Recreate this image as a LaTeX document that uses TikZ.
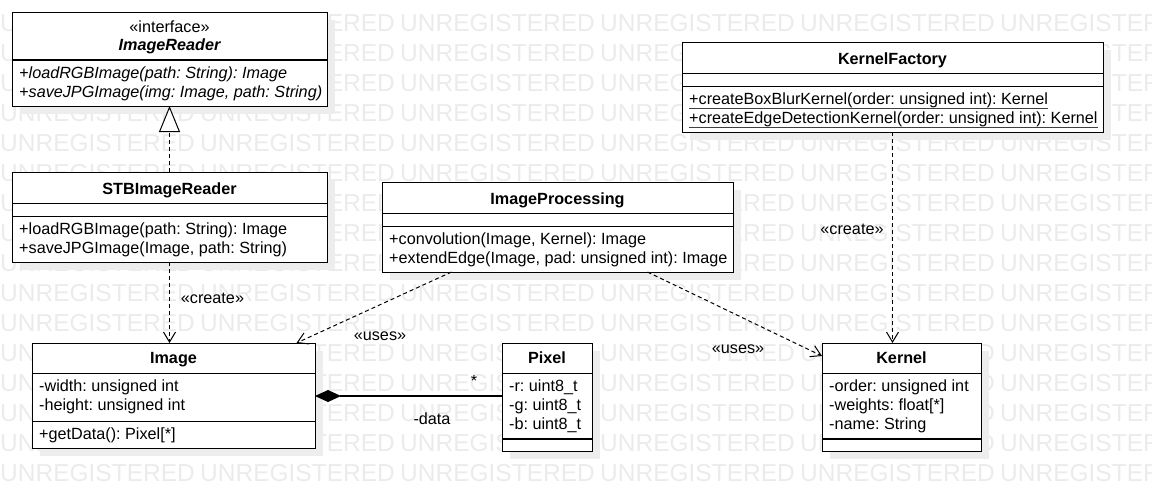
\documentclass[tikz,border=0pt]{standalone}
\usepackage{fontspec}
\setmainfont{Liberation Sans}
\usetikzlibrary{arrows.meta,shadows}
\frenchspacing

\begin{document}
\begin{tikzpicture}[x=1pt,y=-1pt,
		cls/.style={draw, fill=white, line width=1pt, inner sep=0pt, outer sep=0pt, anchor=north west,
			general shadow={fill=black!7, shadow xshift=8pt, shadow yshift=-8pt}},
		txt/.style={inner sep=0pt, anchor=base west, font=\fontsize{16.2}{19}\selectfont},
		title/.style={txt, anchor=base},
		dep/.style={line width=1pt, dash pattern=on 4pt off 3pt, -{Straight Barb[length=10pt,width=12pt]}},
		watermark/.style={inner sep=0pt, anchor=base west, text=black!8, font=\fontsize{24.5}{24.5}\selectfont}]
		\useasboundingbox (0,0) rectangle (1152,501);
		% background text
		\begin{scope}
		\clip (0,0) rectangle (1152,501);
		\foreach \row in {0,...,15}
			\foreach \col in {0,...,5}
				\node[watermark] (wm-\row-\col) at (200*\col,31+30*\row) {UNREGISTERED};
		\end{scope}
		% ImageReader
		\node[cls, minimum width=315pt, minimum height=94pt] (reader) at (12,12) {};
		\draw[line width=2pt] ([yshift=-48pt]reader.north west) -- ([yshift=-48pt]reader.north east);
		\node[title] (readerSt) at (169.5,32) {«interface»};
		\node[title] (readerName) at (169.5,50) {\bfseries\itshape ImageReader};
		\node[txt] (readerM1) at (19,78) {\itshape +loadRGBImage(path: String): Image};
		\node[txt] (readerM2) at (19,97) {\itshape +saveJPGImage(img: Image, path: String)};
		% STBImageReader
		\node[cls, minimum width=315pt, minimum height=90pt] (stb) at (12,172) {};
		\draw ([yshift=-31pt]stb.north west) -- ([yshift=-31pt]stb.north east);
		\draw ([yshift=-44pt]stb.north west) -- ([yshift=-44pt]stb.north east);
		\node[title] (stbName) at (169.5,194) {\bfseries STBImageReader};
		\node[txt] (stbM1) at (19,234) {+loadRGBImage(path: String): Image};
		\node[txt] (stbM2) at (19,253) {+saveJPGImage(Image, path: String)};
		% ImageProcessing
		\node[cls, minimum width=351pt, minimum height=90pt] (proc) at (382,182) {};
		\draw ([yshift=-31pt]proc.north west) -- ([yshift=-31pt]proc.north east);
		\draw ([yshift=-44pt]proc.north west) -- ([yshift=-44pt]proc.north east);
		\node[title] (procName) at (557.5,204) {\bfseries ImageProcessing};
		\node[txt] (procM1) at (389,244) {+convolution(Image, Kernel): Image};
		\node[txt] (procM2) at (389,263) {+extendEdge(Image, pad: unsigned int): Image};
		% KernelFactory
		\node[cls, minimum width=421pt, minimum height=90pt] (kfac) at (682,42) {};
		\draw ([yshift=-31pt]kfac.north west) -- ([yshift=-31pt]kfac.north east);
		\draw ([yshift=-44pt]kfac.north west) -- ([yshift=-44pt]kfac.north east);
		\node[title] (kfacName) at (892.5,64) {\bfseries KernelFactory};
		\node[txt] (kfacM1) at (689,104) {+createBoxBlurKernel(order: unsigned int): Kernel};
		\node[txt] (kfacM2) at (689,123) {+createEdgeDetectionKernel(order: unsigned int): Kernel};
		\draw[black!75] ([yshift=-4pt]kfacM1.base west) -- ([yshift=-4pt]kfacM1.base east);
		\draw[black!75] ([yshift=-4pt]kfacM2.base west) -- ([yshift=-4pt]kfacM2.base east);
		% Image
		\node[cls, minimum width=283pt, minimum height=105pt] (img) at (32,343) {};
		\draw ([yshift=-30pt]img.north west) -- ([yshift=-30pt]img.north east);
		\draw ([yshift=-78pt]img.north west) -- ([yshift=-78pt]img.north east);
		\node[title] (imgName) at (173.5,363) {\bfseries Image};
		\node[txt] (imgA1) at (39,391) {-width: unsigned int};
		\node[txt] (imgA2) at (39,410) {-height: unsigned int};
		\node[txt] (imgM1) at (39,439) {+getData(): Pixel[*]};
		% Pixel
		\node[cls, minimum width=90pt, minimum height=108pt] (pix) at (502,343) {};
		\draw ([yshift=-30pt]pix.north west) -- ([yshift=-30pt]pix.north east);
		\draw[line width=2pt] ([yshift=-96pt]pix.north west) -- ([yshift=-96pt]pix.north east);
		\node[title] (pixName) at (547,363) {\bfseries Pixel};
		\node[txt] (pixA1) at (509,391) {-r: uint8\_t};
		\node[txt] (pixA2) at (509,410) {-g: uint8\_t};
		\node[txt] (pixA3) at (509,429) {-b: uint8\_t};
		% Kernel
		\node[cls, minimum width=159pt, minimum height=108pt] (kern) at (822,343) {};
		\draw ([yshift=-30pt]kern.north west) -- ([yshift=-30pt]kern.north east);
		\draw[line width=2pt] ([yshift=-96pt]kern.north west) -- ([yshift=-96pt]kern.north east);
		\node[title] (kernName) at (901.5,363) {\bfseries Kernel};
		\node[txt] (kernA1) at (829,391) {-order: unsigned int};
		\node[txt] (kernA2) at (829,410) {-weights: float[*]};
		\node[txt] (kernA3) at (829,429) {-name: String};
		% relations
		\draw[line width=1pt, dash pattern=on 4pt off 3pt, -{Triangle[open, fill=white, length=26pt, width=21pt]}] (stb.north) -- (reader.south);
		\draw[dep] (stb.south) -- (stb.south |- img.north);
		\node[title] (createA) at (212.5,303) {«create»};
		\draw[dep] ([xshift=-106pt]proc.south) -- ([xshift=123pt]img.north);
		\node[title] (usesA) at (380,340) {«uses»};
		\draw[dep] ([xshift=90pt]proc.south) -- ([yshift=-13pt]kern.north west);
		\node[title] (usesB) at (738,353) {«uses»};
		\draw[dep] (kfac.south) -- (kfac.south |- kern.north);
		\node[title] (createB) at (852,234) {«create»};
		\draw[line width=1.2pt, -{Diamond[length=26pt, width=12pt]}] ([yshift=-53pt]pix.north west) -- ([yshift=-53pt]img.north east);
		\node[title] (multB) at (474,386) {*};
		\node[title] (dataB) at (432,424) {-data};
	\end{tikzpicture}
\end{document}
